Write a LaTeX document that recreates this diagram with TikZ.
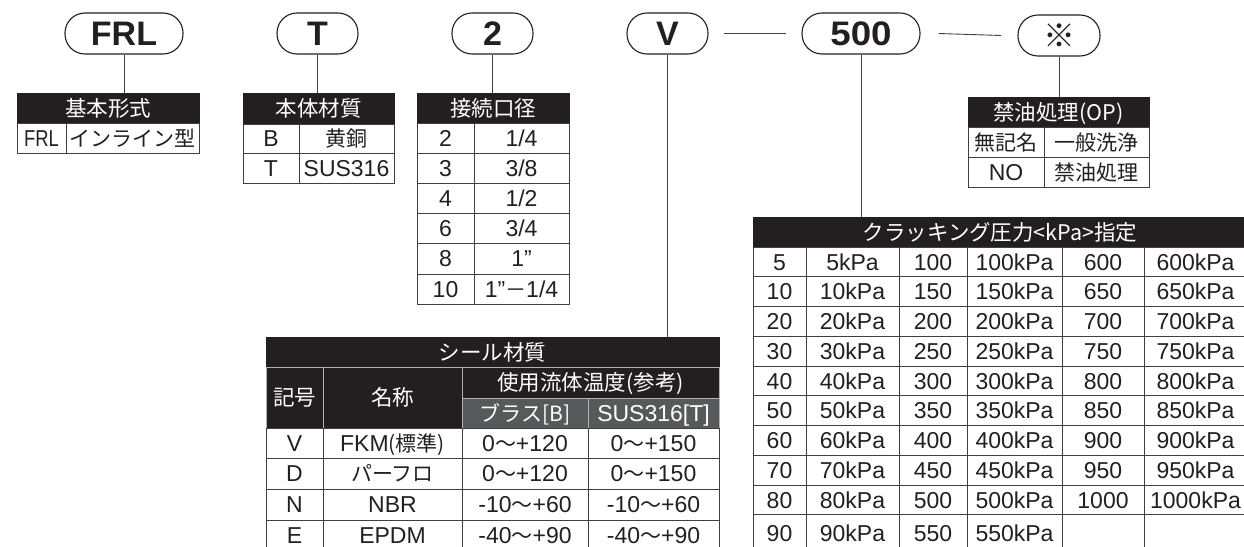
\documentclass[tikz,border=0pt]{standalone}
\usepackage{fontspec}
\usepackage{graphicx}
\setmainfont{Liberation Sans}
\newfontfamily\jpf{Noto Sans CJK JP}
\newcommand\J[1]{{\jpf\fontsize{21}{21}\selectfont #1}}
\definecolor{ink}{HTML}{231F20}
\definecolor{grayrow}{HTML}{58595B}
\definecolor{rulec}{HTML}{404040}
\newcommand\tcel[7][]{\node[tcell,#1,minimum width={(#5-#3)*1pt},minimum height={(#6-#4)*1pt}] (#2) at ({(#3+#5)/2},{(#4+#6)/2}) {#7};}
\begin{document}
\begin{tikzpicture}[x=1pt,y=-1pt,
 tcell/.style={draw=rulec,line width=0.9pt,inner sep=0pt,text=ink,text height=16.5pt,text depth=0pt,font=\fontsize{23}{23}\selectfont},
 hd/.style={fill=ink,draw=ink,text=white,font=\fontsize{21.5}{21.5}\selectfont\jpf},
 hdin/.style={fill=ink,draw=gray!60,text=white,font=\fontsize{21.5}{21.5}\selectfont\jpf},
 gr/.style={fill=grayrow,draw=gray!60,text=white},
 code/.style={draw=ink,line width=1.1pt,rounded corners=20pt,minimum height=41pt,inner sep=0pt,text=ink,text height=24.5pt,text depth=0pt,font=\fontsize{34}{34}\selectfont\bfseries},
 conn/.style={draw=ink!85,line width=0.9pt}]
\useasboundingbox (0,0) rectangle (1244,546);
% code ovals
\node[code,minimum width=118pt] (frl) at (124,33.5) {FRL};
\node[code,minimum width=81pt] (tt) at (317.5,33.5) {T};
\node[code,minimum width=81pt] (two) at (492.5,33.5) {2};
\node[code,minimum width=81pt] (v) at (667.5,33.5) {V};
\node[code,minimum width=118pt] (fh) at (861,33.5) {\scalebox{1.08}[1]{500}};
\node[code,minimum width=82pt,font=\fontsize{32}{32}\selectfont\jpf] (opt) at (1059,35.5) {※};
% table: basic type
\tcel[hd]{h1}{17}{93}{199}{123}{基本形式}
\tcel{c1a}{17}{123}{66}{153}{\scalebox{0.8}[1]{FRL}}
\tcel{c1b}{66}{123}{199}{153}{\J{インライン型}}
% table: body material
\tcel[hd]{h2}{243}{93}{394}{124}{本体材質}
\tcel{c2a}{243}{124}{299}{153}{B}
\tcel{c2b}{299}{124}{394}{153}{\J{黄銅}}
\tcel{c2c}{243}{153}{299}{183}{T}
\tcel{c2d}{299}{153}{394}{183}{SUS316}
% table: port size
\tcel[hd]{h3}{417}{93}{569}{123}{接続口径}
\tcel{c3a}{417}{123}{474}{153}{2}
\tcel{c3b}{474}{123}{569}{153}{1/4}
\tcel{c3c}{417}{153}{474}{183}{3}
\tcel{c3d}{474}{153}{569}{183}{3/8}
\tcel{c3e}{417}{183}{474}{213}{4}
\tcel{c3f}{474}{183}{569}{213}{1/2}
\tcel{c3g}{417}{213}{474}{243}{6}
\tcel{c3h}{474}{213}{569}{243}{3/4}
\tcel{c3i}{417}{243}{474}{274}{8}
\tcel{c3j}{474}{243}{569}{274}{1”}
\tcel{c3k}{417}{274}{474}{304}{10}
\tcel{c3l}{474}{274}{569}{304}{1”\J{－}1/4}
% table: oil-free
\tcel[hd]{h4}{968}{97}{1149}{127}{禁油処理(OP)}
\tcel{c4a}{968}{127}{1044}{157}{\J{無記名}}
\tcel{c4b}{1044}{127}{1149}{157}{\J{一般洗浄}}
\tcel{c4c}{968}{157}{1044}{187}{NO}
\tcel{c4d}{1044}{157}{1149}{187}{\J{禁油処理}}
% table: cracking pressure
\tcel[hd]{h5}{753}{217}{1247}{247}{クラッキング圧力<kPa>指定}
\foreach \a/\b/\c/\d/\e/\f [count=\i from 0] in {5/5kPa/100/100kPa/600/600kPa,10/10kPa/150/150kPa/650/650kPa,20/20kPa/200/200kPa/700/700kPa,30/30kPa/250/250kPa/750/750kPa,40/40kPa/300/300kPa/800/800kPa,50/50kPa/350/350kPa/850/850kPa,60/60kPa/400/400kPa/900/900kPa,70/70kPa/450/450kPa/950/950kPa,80/80kPa/500/500kPa/1000/1000kPa,90/90kPa/550/550kPa/{}/{}}{
 \pgfmathsetmacro\ya{247+29.75*\i}
 \pgfmathsetmacro\yb{\i==9 ? 552 : \ya+29.75}
 \pgfmathsetmacro\yc{\i==9 ? \ya+29.75 : \yb}
 \tcel{k\i-a}{753}{\ya}{806}{\yb}{\a}
 \tcel{k\i-b}{806}{\ya}{899}{\yb}{\b}
 \tcel{k\i-c}{899}{\ya}{967}{\yb}{\c}
 \tcel{k\i-d}{967}{\ya}{1062}{\yb}{\d}
 \tcel{k\i-e}{1062}{\ya}{1144}{\yb}{\e}
 \tcel{k\i-f}{1144}{\ya}{1247}{\yb}{\f}
}
% table: seal material
\tcel[hd]{h6}{266}{337}{719}{367}{シール材質}
\tcel[hdin]{s1}{266}{367}{323}{428}{記号}
\tcel[hdin]{s2}{323}{367}{462}{428}{名称}
\tcel[hdin]{s3}{462}{367}{719}{398}{使用流体温度(参考)}
\tcel[gr]{s4}{462}{398}{588}{428}{\J{ブラス[B]}}
\tcel[gr]{s5}{588}{398}{719}{428}{SUS316[T]}
\tcel{r1a}{266}{428}{323}{458}{V}
\tcel{r1b}{323}{428}{462}{458}{FKM\J{(標準)}}
\tcel{r1c}{462}{428}{588}{458}{0\J{〜}+120}
\tcel{r1d}{588}{428}{719}{458}{0\J{〜}+150}
\tcel{r2a}{266}{458}{323}{489}{D}
\tcel{r2b}{323}{458}{462}{489}{\J{パーフロ}}
\tcel{r2c}{462}{458}{588}{489}{0\J{〜}+120}
\tcel{r2d}{588}{458}{719}{489}{0\J{〜}+150}
\tcel{r3a}{266}{489}{323}{520}{N}
\tcel{r3b}{323}{489}{462}{520}{NBR}
\tcel{r3c}{462}{489}{588}{520}{-10\J{〜}+60}
\tcel{r3d}{588}{489}{719}{520}{-10\J{〜}+60}
\tcel{r4a}{266}{520}{323}{550}{E}
\tcel{r4b}{323}{520}{462}{550}{EPDM}
\tcel{r4c}{462}{520}{588}{550}{-40\J{〜}+90}
\tcel{r4d}{588}{520}{719}{550}{-40\J{〜}+90}
% connectors
\draw[conn] (frl.south) -- (frl.south |- h1.north);
\draw[conn] (tt.south) -- (tt.south |- h2.north);
\draw[conn] (two.south) -- (two.south |- h3.north);
\draw[conn] (v.south) -- (v.south |- h6.north);
\draw[conn] (fh.south) -- (fh.south |- h5.north);
\draw[conn] (opt.south) -- (opt.south |- h4.north);
\draw[conn] ([xshift=15pt]v.east) -- ([xshift=-15pt]fh.west);
\draw[conn] ([xshift=18pt]fh.east) -- ([xshift=-16pt]opt.west);
\end{tikzpicture}
\end{document}
